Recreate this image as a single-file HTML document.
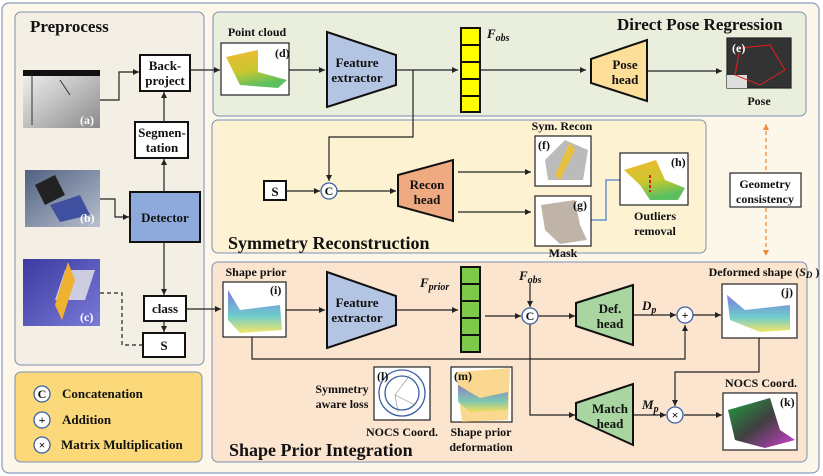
<!DOCTYPE html>
<html><head><meta charset="utf-8"><style>
html,body{margin:0;padding:0;background:#fff}
svg{display:block}
text{font-family:"Liberation Serif",serif;font-weight:bold;fill:#111}
</style></head><body>
<svg width="823" height="476" viewBox="0 0 823 476" xmlns="http://www.w3.org/2000/svg">
<defs>
<marker id="ar" markerWidth="8" markerHeight="8" refX="6" refY="3" orient="auto" markerUnits="userSpaceOnUse"><path d="M0,0 L6,3 L0,6 z" fill="#222"/></marker>
<marker id="ao" markerWidth="8" markerHeight="8" refX="6" refY="3" orient="auto" markerUnits="userSpaceOnUse"><path d="M0,0 L6,3 L0,6 z" fill="#f08a3c"/></marker>
<marker id="ao2" markerWidth="8" markerHeight="8" refX="0" refY="3" orient="auto" markerUnits="userSpaceOnUse"><path d="M6,0 L0,3 L6,6 z" fill="#f08a3c"/></marker>
<linearGradient id="pc" x1="0" y1="0" x2="0.3" y2="1"><stop offset="0" stop-color="#f4b830"/><stop offset="0.6" stop-color="#c8c830"/><stop offset="1" stop-color="#5cc060"/></linearGradient>
<linearGradient id="gr" x1="0" y1="0" x2="1" y2="1"><stop offset="0" stop-color="#f4f4f4"/><stop offset="1" stop-color="#8a8a8a"/></linearGradient>
<linearGradient id="ph" x1="0" y1="0" x2="1" y2="1"><stop offset="0" stop-color="#506080"/><stop offset="1" stop-color="#b8c0d0"/></linearGradient>
<linearGradient id="bl" x1="0" y1="0" x2="1" y2="1"><stop offset="0" stop-color="#3a3aa0"/><stop offset="1" stop-color="#7a7ad8"/></linearGradient>
<linearGradient id="sp" x1="0" y1="0" x2="0" y2="1"><stop offset="0" stop-color="#5a5ad8"/><stop offset="0.6" stop-color="#4ac0c0"/><stop offset="1" stop-color="#f0e040"/></linearGradient>
<linearGradient id="nc" x1="0" y1="0" x2="1" y2="1"><stop offset="0" stop-color="#20a040"/><stop offset="0.5" stop-color="#404040"/><stop offset="1" stop-color="#d040d0"/></linearGradient>
</defs>
<rect width="823" height="476" fill="#fff"/>
<rect x="2" y="3" width="817" height="470" rx="7" fill="#fdf7ea" stroke="#8a9bbf" stroke-width="1.2"/>
<rect x="15" y="12" width="189" height="353" rx="6" fill="#f3efe4" stroke="#7b8fb5"/>
<rect x="15" y="372" width="187" height="90" rx="6" fill="#fbd97a" stroke="#7b8fb5"/>
<rect x="213" y="12" width="593" height="104" rx="6" fill="#e9efdc" stroke="#7b8fb5"/>
<rect x="212" y="120" width="494" height="133" rx="6" fill="#fdf2d2" stroke="#7b8fb5"/>
<rect x="212" y="262" width="595" height="200" rx="6" fill="#fbe5cf" stroke="#7b8fb5"/>

<text x="30" y="32" font-size="17">Preprocess</text>
<text x="617" y="30" font-size="17">Direct Pose Regression</text>
<text x="228" y="249" font-size="18">Symmetry Reconstruction</text>
<text x="229" y="456" font-size="18">Shape Prior Integration</text>

<!-- preprocess images -->
<rect x="23" y="70" width="77" height="58" fill="url(#gr)"/><rect x="23" y="70" width="77" height="6" fill="#111"/>
<line x1="32" y1="75" x2="32" y2="125" stroke="#333"/><line x1="60" y1="80" x2="70" y2="95" stroke="#333"/>
<text x="80" y="124" font-size="12" style="fill:#fff">(a)</text>
<rect x="25" y="170" width="75" height="57" fill="url(#ph)"/>
<polygon points="35,185 55,175 65,195 45,205" fill="#222"/><polygon points="50,205 80,195 90,215 60,222" fill="#4050a0"/>
<text x="80" y="222" font-size="12" style="fill:#fff">(b)</text>
<rect x="23" y="259" width="77" height="67" fill="url(#bl)"/><polygon points="55,300 65,270 95,270 85,300" fill="#e8e8e8" opacity="0.8"/><polygon points="55,305 68,262 75,280 62,320" fill="#f0b030"/>
<text x="80" y="321" font-size="12" style="fill:#fff">(c)</text>

<g fill="#fff" stroke="#111" stroke-width="2">
<rect x="140" y="55" width="50" height="36"/>
<rect x="135" y="122" width="53" height="36"/>
<rect x="144" y="296" width="42" height="25"/>
<rect x="143" y="333" width="42" height="24"/>
<rect x="264" y="181" width="22" height="19"/>
</g>
<rect x="130" y="192" width="70" height="50" fill="#8eaadc" stroke="#111" stroke-width="2"/>
<g font-size="13" text-anchor="middle">
<text x="165" y="70">Back-</text><text x="165" y="85">project</text>
<text x="162" y="137">Segmen-</text><text x="162" y="152">tation</text>
<text x="165" y="222">Detector</text>
<text x="165" y="313">class</text>
<text x="164" y="350">S</text>
<text x="275" y="196">S</text>
</g>

<g stroke="#222" stroke-width="1.2" fill="none">
<polyline points="100,100 119,100 119,72 139,72" marker-end="url(#ar)"/>
<line x1="164" y1="122" x2="164" y2="92" marker-end="url(#ar)"/>
<line x1="164" y1="192" x2="164" y2="159" marker-end="url(#ar)"/>
<polyline points="100,199 115,199 115,217 129,217" marker-end="url(#ar)"/>
<line x1="164" y1="242" x2="164" y2="295" marker-end="url(#ar)"/>
<line x1="164" y1="321" x2="164" y2="332" marker-end="url(#ar)"/>
<polyline points="100,293 122,293 122,345 143,345" stroke-dasharray="4,3"/>
<line x1="190" y1="70" x2="220" y2="70" marker-end="url(#ar)"/>
<line x1="186" y1="309" x2="221" y2="309" marker-end="url(#ar)"/>
<line x1="289" y1="70" x2="325" y2="70" marker-end="url(#ar)"/>
<line x1="396" y1="70" x2="458" y2="70" marker-end="url(#ar)"/>
<line x1="480" y1="70" x2="586" y2="70" marker-end="url(#ar)"/>
<line x1="648" y1="71" x2="722" y2="71" marker-end="url(#ar)"/>
<polyline points="413,70 413,137 329,137 329,181" marker-end="url(#ar)"/>
<line x1="286" y1="191" x2="320" y2="191" marker-end="url(#ar)"/>
<line x1="337" y1="191" x2="396" y2="191" marker-end="url(#ar)"/>
<line x1="458" y1="172" x2="531" y2="172" marker-end="url(#ar)"/>
<line x1="458" y1="212" x2="531" y2="212" marker-end="url(#ar)"/>
<line x1="286" y1="310" x2="325" y2="310" marker-end="url(#ar)"/>
<line x1="396" y1="310" x2="458" y2="310" marker-end="url(#ar)"/>
<line x1="485" y1="316" x2="521" y2="316" marker-end="url(#ar)"/>
<line x1="530" y1="282" x2="530" y2="307" marker-end="url(#ar)"/>
<line x1="538" y1="316" x2="575" y2="316" marker-end="url(#ar)"/>
<line x1="633" y1="315" x2="676" y2="315" marker-end="url(#ar)"/>
<line x1="693" y1="315" x2="721" y2="315" marker-end="url(#ar)"/>
<polyline points="252,337 252,359 685,359 685,325" marker-end="url(#ar)"/>
<polyline points="530,324 530,415 575,415" marker-end="url(#ar)"/>
<line x1="633" y1="415" x2="666" y2="415" marker-end="url(#ar)"/>
<line x1="684" y1="415" x2="722" y2="415" marker-end="url(#ar)"/>
<polyline points="759,338 759,372 675,372 675,406" marker-end="url(#ar)"/>
</g>
<polyline points="591,220 606,220 606,180 620,180" fill="none" stroke="#6a90d0" stroke-width="1.5"/>
<line x1="766" y1="124" x2="766" y2="256" stroke="#f08a3c" stroke-width="1.3" stroke-dasharray="4,3" marker-start="url(#ao2)" marker-end="url(#ao)"/>
<rect x="730" y="173" width="71" height="34" fill="#fff" stroke="#333" stroke-width="1.3"/>
<text x="765" y="188" font-size="12" text-anchor="middle">Geometry</text>
<text x="765" y="203" font-size="12" text-anchor="middle">consistency</text>

<!-- trapezoids -->
<g stroke="#111" stroke-width="2">
<polygon points="327,32 396,55 396,85 327,107" fill="#b3c5e3"/>
<polygon points="327,272 396,296 396,325 327,348" fill="#b3c5e3"/>
<polygon points="591,59 647,40 647,101 591,83" fill="#fddf9a"/>
<polygon points="398,175 453,160 453,221 398,206" fill="#f0aa82"/>
<polygon points="576,303 633,285 633,345 576,326" fill="#a9d5a0"/>
<polygon points="576,403 633,384 633,445 576,419" fill="#a9d5a0"/>
</g>
<g font-size="13" text-anchor="middle">
<text x="357" y="67">Feature</text><text x="357" y="82">extractor</text>
<text x="357" y="307">Feature</text><text x="357" y="322">extractor</text>
<text x="625" y="69">Pose</text><text x="625" y="84">head</text>
<text x="427" y="189">Recon</text><text x="427" y="204">head</text>
<text x="610" y="313">Def.</text><text x="610" y="328">head</text>
<text x="610" y="413">Match</text><text x="610" y="428">head</text>
</g>

<!-- feature columns -->
<g stroke="#111" stroke-width="2" fill="#ffff00">
<rect x="461" y="28" width="19" height="17"/><rect x="461" y="45" width="19" height="17"/><rect x="461" y="62" width="19" height="17"/><rect x="461" y="79" width="19" height="17"/><rect x="461" y="96" width="19" height="16"/>
</g>
<g stroke="#111" stroke-width="2" fill="#7ec84a">
<rect x="461" y="267" width="19" height="17"/><rect x="461" y="284" width="19" height="17"/><rect x="461" y="301" width="19" height="17"/><rect x="461" y="318" width="19" height="17"/><rect x="461" y="335" width="19" height="17"/>
</g>
<text x="487" y="38" font-size="13" font-style="italic">F<tspan font-size="10" dy="3">obs</tspan></text>
<text x="420" y="287" font-size="13" font-style="italic">F<tspan font-size="10" dy="3">prior</tspan></text>
<text x="519" y="280" font-size="13" font-style="italic">F<tspan font-size="10" dy="3">obs</tspan></text>
<text x="642" y="310" font-size="13" font-style="italic">D<tspan font-size="10" dy="3">p</tspan></text>
<text x="642" y="409" font-size="13" font-style="italic">M<tspan font-size="10" dy="3">p</tspan></text>

<!-- circles -->
<g fill="#fff" stroke="#3a5fa0" stroke-width="1.3">
<circle cx="329" cy="191" r="8"/><circle cx="530" cy="316" r="8"/><circle cx="685" cy="315" r="8"/><circle cx="675" cy="415" r="8"/>
<circle cx="42" cy="394" r="8"/><circle cx="42" cy="420" r="8"/><circle cx="42" cy="445" r="8"/>
</g>
<g font-size="12" text-anchor="middle">
<text x="329" y="195">C</text><text x="530" y="320">C</text><text x="685" y="319" font-weight="normal">+</text><text x="675" y="419" font-weight="normal">×</text>
<text x="42" y="398">C</text><text x="42" y="424" font-weight="normal">+</text><text x="42" y="449" font-weight="normal">×</text>
</g>
<g font-size="13">
<text x="62" y="398">Concatenation</text><text x="62" y="424">Addition</text><text x="61" y="449">Matrix Multiplication</text>
</g>

<!-- image boxes -->
<g stroke="#222" stroke-width="1.2" fill="#fff">
<rect x="221" y="43" width="68" height="52"/>
<rect x="727" y="38" width="64" height="50" fill="#333"/>
<rect x="535" y="136" width="56" height="50"/>
<rect x="535" y="196" width="56" height="50"/>
<rect x="620" y="153" width="68" height="52"/>
<rect x="223" y="282" width="63" height="55"/>
<rect x="722" y="284" width="75" height="54"/>
<rect x="723" y="393" width="74" height="57"/>
<rect x="374" y="367" width="56" height="53"/>
<rect x="451" y="367" width="61" height="55"/>
</g>
<polygon points="226,57 258,50 258,72 287,80 278,88 240,85" fill="url(#pc)"/>
<polygon points="624,170 656,160 665,180 685,188 678,200 650,200 640,185" fill="url(#pc)"/>
<line x1="650" y1="175" x2="650" y2="192" stroke="#d02020" stroke-width="2" stroke-dasharray="3,2"/>
<rect x="727" y="75" width="20" height="13" fill="#ddd"/>
<polygon points="740,48 770,45 785,70 760,85 735,75" fill="none" stroke="#e02020"/>
<polygon points="545,160 565,140 588,150 583,180 548,180" fill="#bbb"/><polygon points="555,175 570,142 575,150 560,180" fill="#e8c040"/>
<polygon points="541,205 575,200 580,225 587,240 560,244 545,230" fill="#c0b4a8"/>
<polygon points="228,290 240,310 280,305 282,330 240,333 228,320" fill="url(#sp)" opacity="0.8"/>
<polygon points="727,295 745,310 790,305 790,330 760,332 730,320" fill="url(#sp)" opacity="0.8"/>
<polygon points="728,410 770,398 780,430 795,440 765,448 735,440" fill="url(#nc)"/>
<circle cx="402" cy="393" r="23" fill="none" stroke="#3a5fa0" stroke-width="1.3"/><circle cx="402" cy="393" r="17" fill="none" stroke="#3a5fa0" stroke-width="1.3"/>
<g stroke="#888" stroke-width="0.6"><line x1="395" y1="395" x2="410" y2="375"/><line x1="395" y1="395" x2="415" y2="405"/><line x1="395" y1="395" x2="398" y2="412"/></g>
<polygon points="456,372 510,368 508,420 462,422" fill="#f8c860" opacity="0.7"/><polygon points="458,385 480,398 508,392 508,410 470,412 458,402" fill="url(#sp)" opacity="0.7"/>
<g font-size="12">
<text x="275" y="57">(d)</text><text x="732" y="52" style="fill:#fff">(e)</text><text x="538" y="149">(f)</text><text x="573" y="209">(g)</text>
<text x="671" y="166">(h)</text><text x="270" y="294">(i)</text><text x="781" y="296">(j)</text><text x="780" y="406">(k)</text>
<text x="377" y="380">(l)</text><text x="454" y="380">(m)</text>
</g>
<g font-size="12" text-anchor="middle">
<text x="257" y="36">Point cloud</text>
<text x="759" y="105">Pose</text>
<text x="562" y="130">Sym. Recon</text>
<text x="563" y="257">Mask</text>
<text x="655" y="220">Outliers</text><text x="655" y="235">removal</text>
<text x="256" y="276">Shape prior</text>
<text x="764" y="276">Deformed shape (<tspan font-style="italic">S<tspan font-size="9" dy="2">D</tspan></tspan><tspan dy="-2"> )</tspan></text>
<text x="761" y="387">NOCS Coord.</text>
<text x="342" y="393">Symmetry</text><text x="342" y="408">aware loss</text>
<text x="402" y="436">NOCS Coord.</text>
<text x="481" y="436">Shape prior</text><text x="481" y="451">deformation</text>
</g>
</svg>
</body></html>
